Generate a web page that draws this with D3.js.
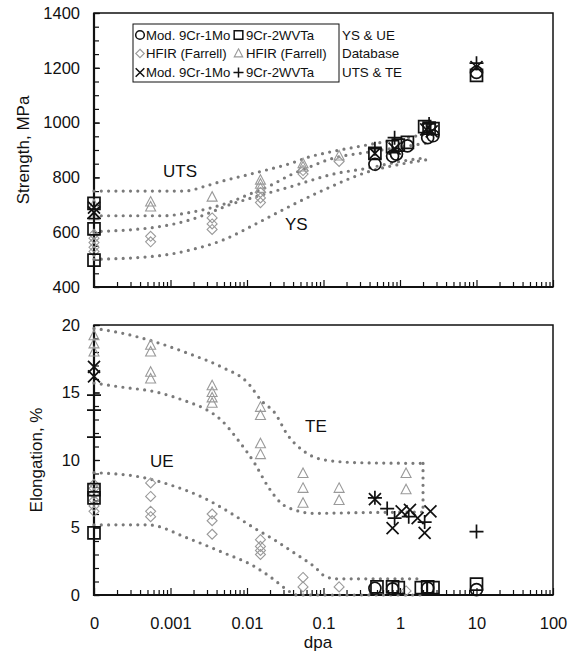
<!DOCTYPE html>
<html><head><meta charset="utf-8">
<script src="https://cdn.jsdelivr.net/npm/d3@7"></script>
<style>
body{margin:0;background:#fff}
text{font-family:"Liberation Sans",Arial,sans-serif;fill:#111}
</style>
</head><body>
<svg id="c" width="578" height="659"></svg>
<script>
// ---------- tick data ----------
const dpaTicks = [1e-4, 1e-3, 1e-2, 1e-1, 1, 10, 100];
const dpaTickLabels = ["0", "0.001", "0.01", "0.1", "1", "10", "100"];
const strengthTicks = [400, 600, 800, 1000, 1200, 1400];
const strengthMinorStep = 50;
const elongTicks = [0, 5, 10, 15, 20];
const elongMinorStep = 1;

// ---------- strength panel data [dpa, MPa] (dpa 1e-4 plotted as "0") ----------
const ysMod9Cr1Mo = [[0.47,848],[0.8,878],[0.9,885],[1.25,915],[2.3,945],[2.7,952],[10,1183]];
const ys9Cr2WVTa = [[1e-4,705],[1e-4,612],[1e-4,498],[0.47,888],[0.8,912],[0.95,918],[1.25,928],[2.1,985],[2.4,980],[2.7,978],[10,1172]];
const ysHFIR = [[1e-4,592],[1e-4,578],[1e-4,562],[1e-4,545],[1e-4,530],[0.00055,585],[0.00055,565],[0.0035,652],[0.0035,630],[0.0035,610],[0.015,745],[0.015,725],[0.015,708],[0.054,825],[0.054,812],[0.16,858]];
const utsHFIR = [[1e-4,700],[1e-4,660],[0.00055,710],[0.00055,692],[0.0035,728],[0.015,790],[0.015,775],[0.015,760],[0.054,850],[0.054,838],[0.16,878]];
const utsMod9Cr1Mo = [[1e-4,690],[1e-4,672],[0.47,888],[0.85,905],[2.2,975],[2.6,968],[10,1203]];
const uts9Cr2WVTa = [[1e-4,650],[0.47,905],[0.85,945],[2.4,995],[10,1217]];

// band curves (strength)
const utsUpper = [[1e-4,750],[0.0015,750],[0.003,770],[0.005,788],[0.01,809],[0.018,827],[0.037,851],[0.067,876],[0.11,890],[0.4,920],[1,940],[2.2,958]];
const utsLower = [[1e-4,660],[0.0008,660],[0.0018,672],[0.0035,690],[0.006,710],[0.01,735],[0.02,770],[0.037,809],[0.067,839],[0.12,866],[0.4,893],[1,910],[2.2,925]];
const ysUpper = [[1e-4,602],[0.0007,620],[0.0018,645],[0.004,681],[0.0066,705],[0.01,720],[0.02,745],[0.037,766],[0.07,790],[0.12,809],[0.4,835],[1,858],[2.2,872]];
const ysLower = [[1e-4,501],[0.00066,513],[0.0018,535],[0.0049,572],[0.0134,632],[0.0365,695],[0.1,754],[0.4,822],[1,848],[2.2,864]];

// ---------- elongation panel data [dpa, %] ----------
const ueMod9Cr1Mo = [[0.47,0.5],[0.8,0.45],[2.3,0.5],[10,0.4]];
const ue9Cr2WVTa = [[1e-4,7.8],[1e-4,7.2],[1e-4,4.6],[0.5,0.6],[0.8,0.6],[0.95,0.55],[1.9,0.55],[2.3,0.6],[2.7,0.55],[10,0.8]];
const ueHFIR = [[1e-4,8.2],[1e-4,7.9],[1e-4,7.5],[1e-4,7.0],[1e-4,6.6],[1e-4,6.2],[0.00055,8.3],[0.00055,7.3],[0.00055,6.2],[0.00055,5.8],[0.0035,6.0],[0.0035,5.5],[0.0035,4.5],[0.015,4.1],[0.015,3.6],[0.015,3.3],[0.015,3.0],[0.054,1.3],[0.054,0.6],[0.16,0.6],[1.2,0.3]];
const teHFIR = [[1e-4,19.2],[1e-4,18.6],[1e-4,18.0],[0.00055,18.5],[0.00055,18.0],[0.00055,16.5],[0.00055,16.0],[0.0035,15.5],[0.0035,15.0],[0.0035,14.6],[0.0035,14.2],[0.015,13.9],[0.015,13.3],[0.015,11.2],[0.015,10.4],[0.054,9.0],[0.054,7.9],[0.054,6.8],[0.16,7.9],[0.16,7.0],[1.2,9.0],[1.2,7.8]];
const teMod9Cr1Mo = [[1e-4,16.9],[1e-4,16.2],[0.47,7.1],[0.8,4.95],[1.05,6.2],[1.35,6.3],[1.7,5.7],[2.1,4.6],[2.5,6.2]];
const te9Cr2WVTa = [[1e-4,14.8],[1e-4,13.7],[1e-4,11.7],[0.47,7.2],[0.68,6.4],[0.85,5.7],[1.3,5.8],[2.1,5.4],[10,4.7]];

const teUpper = [[1e-4,19.75],[0.00023,19.4],[0.00062,18.76],[0.0017,17.9],[0.0046,16.9],[0.0103,15.7],[0.0154,14.4],[0.023,13.5],[0.034,11.85],[0.057,10.6],[0.104,10.0],[0.3,9.8],[2.0,9.75]];
const teClose = [[2.0,9.75],[2.0,6.15]];
const teLower = [[1e-4,15.7],[0.00023,15.4],[0.00062,15.06],[0.0017,14.3],[0.0028,13.8],[0.0046,12.96],[0.0076,11.5],[0.0126,9.75],[0.019,8.0],[0.028,6.8],[0.042,6.3],[0.076,6.05],[0.3,6.1],[2.0,6.15]];
const ueUpper = [[1e-4,9.06],[0.00038,8.77],[0.001,8.15],[0.0028,7.16],[0.0062,6.05],[0.0126,4.94],[0.023,4.07],[0.042,3.09],[0.076,2.1],[0.107,1.36],[0.15,1.2],[2.0,1.2]];
const ueLower = [[1e-4,5.19],[0.0005,5.2],[0.0017,4.2],[0.0046,3.2],[0.0126,2.1],[0.023,1.1],[0.033,0.4],[0.045,0.0],[2.0,0.0]];

// ---------- legend ----------
const legendRows = [
  [{sym:"circle", gray:false, label:"Mod. 9Cr-1Mo"}, {sym:"square", gray:false, label:"9Cr-2WVTa"}],
  [{sym:"diamond", gray:true, label:"HFIR (Farrell)"}, {sym:"triangle", gray:true, label:"HFIR (Farrell)"}],
  [{sym:"times", gray:false, label:"Mod. 9Cr-1Mo"}, {sym:"plus", gray:false, label:"9Cr-2WVTa"}]
];
const legendNotes = ["YS & UE", "Database", "UTS & TE"];

// ---------- drawing ----------
const svg = d3.select("#c");
const L = 94, R = 553;
const x = d3.scaleLog().domain([1e-4, 100]).range([L, R]);

const symbolPath = {
  circle: s => { const p = d3.path(); p.moveTo(6*s,0); p.arc(0,0,6*s,0,2*Math.PI); p.closePath(); return p.toString(); },
  square: s => `M${-6*s},${-6*s}h${12*s}v${12*s}h${-12*s}Z`,
  times: s => `M${-6*s},${-6*s}L${6*s},${6*s}M${-6*s},${6*s}L${6*s},${-6*s}`,
  plus: s => `M${-7*s},0H${7*s}M0,${-7*s}V${7*s}`,
  diamond: s => `M0,${-5*s}L${5*s},0L0,${5*s}L${-5*s},0Z`,
  triangle: s => `M0,${-5.5*s}L${5*s},${4*s}L${-5*s},${4*s}Z`
};
const BLACK = "#111", GRAY = "#9a9a9a", DOT = "#7a7a7a";

function drawPanel(cfg) {
  const g = svg.append("g");
  const y = cfg.y;
  const [y0, y1] = y.range();
  const minors = d3.range(y.domain()[0], y.domain()[1] + 1e-9, cfg.minorStep);
  g.append("g").attr("transform", `translate(${L},0)`)
    .call(d3.axisLeft(y).tickValues(minors).tickFormat("").tickSize(-5))
    .call(a => a.select(".domain").remove())
    .selectAll("line").attr("stroke", BLACK).attr("stroke-width", 1.2);
  g.append("g").attr("transform", `translate(${L},0)`)
    .call(d3.axisLeft(y).tickValues(cfg.major).tickFormat(d3.format("d")).tickSize(-6).tickPadding(14))
    .call(a => a.select(".domain").remove())
    .call(a => a.selectAll("line").attr("stroke", BLACK).attr("stroke-width", 1.2))
    .call(a => a.selectAll("text").attr("font-size", "16.5px").attr("fill", BLACK)
      .style("font-family", '"Liberation Sans",Arial,sans-serif'));
  const xMinor = [];
  dpaTicks.slice(0, -1).forEach(d => { for (let k = 2; k <= 9; k++) xMinor.push(d * k); });
  g.append("g").attr("transform", `translate(0,${y0})`)
    .call(d3.axisBottom(x).tickValues(xMinor).tickFormat("").tickSize(-5))
    .call(a => a.select(".domain").remove())
    .selectAll("line").attr("stroke", BLACK).attr("stroke-width", 1.2);
  g.append("g").attr("transform", `translate(0,${y0})`)
    .call(d3.axisBottom(x).tickValues(dpaTicks)
      .tickFormat(cfg.xLabels ? ((d, i) => dpaTickLabels[i]) : "")
      .tickSize(-7).tickPadding(22))
    .call(a => a.select(".domain").remove())
    .call(a => a.selectAll("line").attr("stroke", BLACK).attr("stroke-width", 1.2))
    .call(a => a.selectAll("text").attr("font-size", "16.5px").attr("fill", BLACK)
      .style("font-family", '"Liberation Sans",Arial,sans-serif'));
  g.append("rect").attr("x", L).attr("y", y1).attr("width", R - L).attr("height", y0 - y1)
    .attr("fill", "none").attr("stroke", BLACK).attr("stroke-width", 1.5);
  g.append("path").attr("d", `M${L},${y1}V${y0}H${R}`).attr("fill", "none")
    .attr("stroke", BLACK).attr("stroke-width", 2.2);

  const line = d3.line().x(d => x(d[0])).y(d => y(d[1])).curve(d3.curveMonotoneX);
  const lineLin = d3.line().x(d => x(d[0])).y(d => y(d[1]));
  cfg.curves.forEach(c => {
    g.append("path").attr("d", (c.linear ? lineLin : line)(c.data)).attr("fill", "none")
      .attr("stroke", DOT).attr("stroke-width", 3.2).attr("stroke-linecap", "round")
      .attr("stroke-dasharray", "0 7.3");
  });

  cfg.series.forEach(s => {
    g.append("g").selectAll("path").data(s.data).join("path")
      .attr("transform", d => `translate(${x(d[0])},${y(d[1])})`)
      .attr("d", symbolPath[s.sym](1))
      .attr("fill", "none")
      .attr("stroke", s.gray ? GRAY : BLACK)
      .attr("stroke-width", s.gray ? 1.1 : 1.7);
  });

  cfg.notes.forEach(n => {
    g.append("text").attr("x", n.x).attr("y", n.y).attr("font-size", "17px").text(n.text);
  });
  g.append("text").attr("transform", `translate(${cfg.titleX},${(y0 + y1) / 2}) rotate(-90)`)
    .attr("text-anchor", "middle").attr("font-size", "17px").text(cfg.title);
  return g;
}

drawPanel({
  y: d3.scaleLinear().domain([400, 1400]).range([287, 13]),
  major: strengthTicks, minorStep: strengthMinorStep, xLabels: false,
  title: "Strength, MPa", titleX: 29,
  curves: [{data: utsUpper}, {data: utsLower}, {data: ysUpper}, {data: ysLower}],
  series: [
    {data: ysHFIR, sym: "diamond", gray: true},
    {data: utsHFIR, sym: "triangle", gray: true},
    {data: ysMod9Cr1Mo, sym: "circle"},
    {data: ys9Cr2WVTa, sym: "square"},
    {data: utsMod9Cr1Mo, sym: "times"},
    {data: uts9Cr2WVTa, sym: "plus"}
  ],
  notes: [{text: "UTS", x: 163, y: 177}, {text: "YS", x: 285, y: 230}]
});

drawPanel({
  y: d3.scaleLinear().domain([0, 20]).range([595, 325]),
  major: elongTicks, minorStep: elongMinorStep, xLabels: true,
  title: "Elongation, %", titleX: 42,
  curves: [{data: teUpper}, {data: teClose, linear: true}, {data: teLower}, {data: ueUpper}, {data: ueLower}],
  series: [
    {data: ueHFIR, sym: "diamond", gray: true},
    {data: teHFIR, sym: "triangle", gray: true},
    {data: ueMod9Cr1Mo, sym: "circle"},
    {data: ue9Cr2WVTa, sym: "square"},
    {data: teMod9Cr1Mo, sym: "times"},
    {data: te9Cr2WVTa, sym: "plus"}
  ],
  notes: [{text: "UE", x: 150, y: 467}, {text: "TE", x: 305, y: 432}]
});

svg.append("text").attr("x", 318).attr("y", 648).attr("text-anchor", "middle")
  .attr("font-size", "17px").text("dpa");

const lg = svg.append("g");
lg.append("rect").attr("x", 133).attr("y", 24).attr("width", 206).attr("height", 58)
  .attr("fill", "#fff").attr("stroke", BLACK).attr("stroke-width", 1);
const rowY = [35, 53.5, 72.5];
const colSymX = [140, 238.5], colTxtX = [146, 246];
legendRows.forEach((row, ri) => {
  row.forEach((e, ci) => {
    lg.append("path").attr("transform", `translate(${colSymX[ci]},${rowY[ri]})`)
      .attr("d", symbolPath[e.sym](e.sym === "diamond" || e.sym === "triangle" ? 0.85 : 0.72))
      .attr("fill", "none").attr("stroke", e.gray ? GRAY : BLACK).attr("stroke-width", e.gray ? 1.1 : 1.5);
    lg.append("text").attr("x", colTxtX[ci]).attr("y", rowY[ri]).attr("dy", "0.36em")
      .attr("font-size", "13.2px").text(e.label);
  });
  lg.append("text").attr("x", 342).attr("y", rowY[ri]).attr("dy", "0.36em")
    .attr("font-size", "13.4px").text(legendNotes[ri]);
});
</script>
</body></html>
